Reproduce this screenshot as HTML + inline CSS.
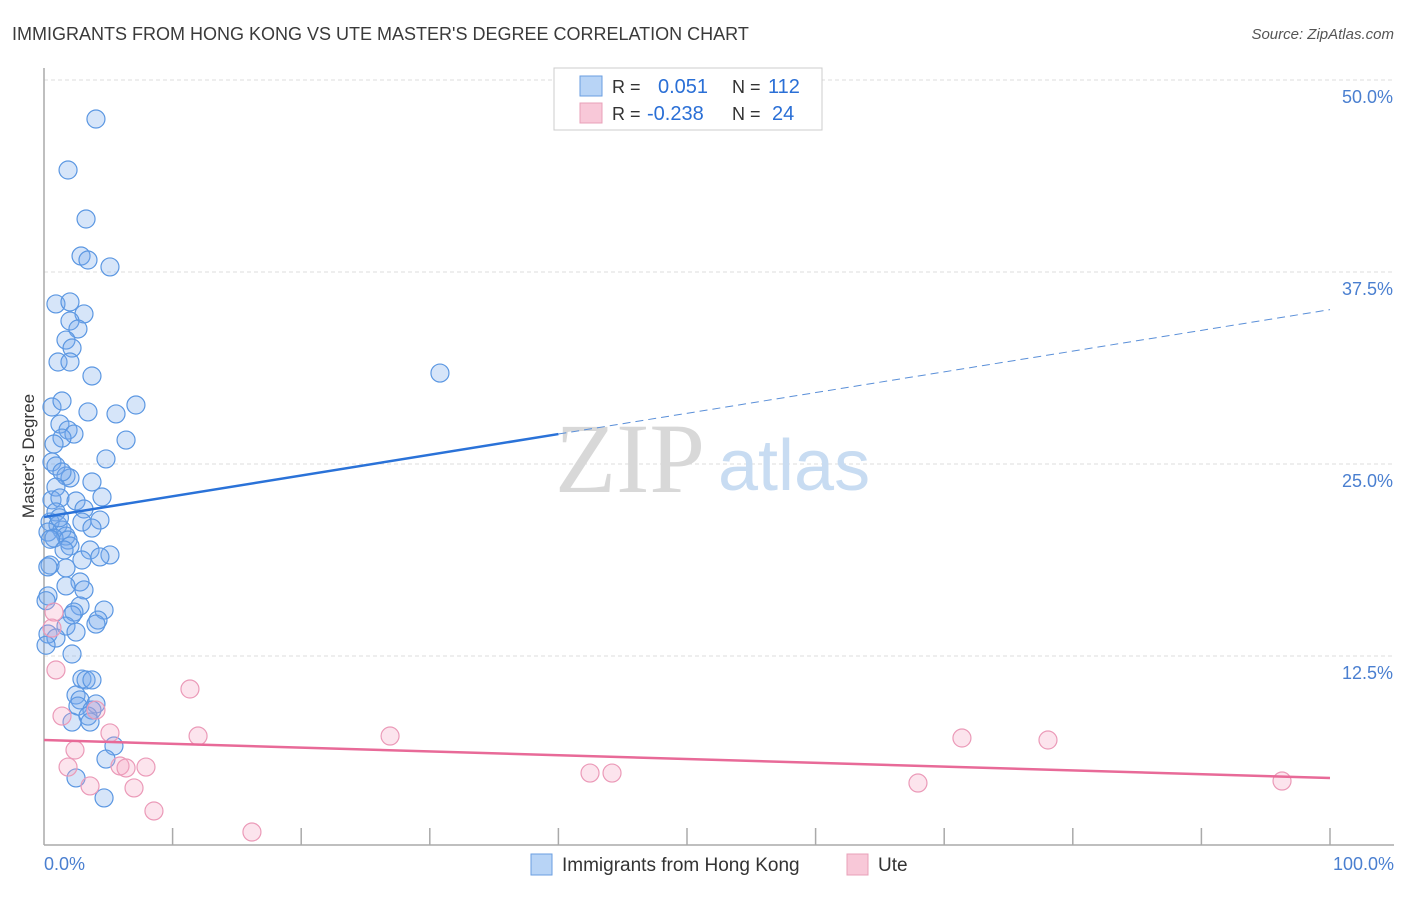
<!DOCTYPE html>
<html><head><meta charset="utf-8"><style>
body{margin:0;background:#fff;font-family:"Liberation Sans",sans-serif;}
svg text{font-family:"Liberation Sans",sans-serif;}
</style></head><body>
<svg id="chart" width="1406" height="892" viewBox="0 0 1406 892">
<text x="12" y="40" font-size="18" fill="#3a3a3a">IMMIGRANTS FROM HONG KONG VS UTE MASTER'S DEGREE CORRELATION CHART</text>
<text x="1394" y="39" font-size="15" fill="#555" font-style="italic" text-anchor="end">Source: ZipAtlas.com</text>
<g id="grid"></g>
<g>
<text x="555" y="492" font-size="100" fill="#d8d8d8" style="font-family:'Liberation Serif',serif">ZIP</text>
<text x="718" y="490" font-size="72" fill="#c8dcf2">atlas</text>
</g>
<line x1="44" y1="68" x2="44" y2="845" stroke="#aaa" stroke-width="1.5"/>
<line x1="44" y1="845" x2="1394" y2="845" stroke="#aaa" stroke-width="1.5"/>
<g id="xticks"></g>
<g id="pts"></g>
<g id="trends"></g>
<text transform="translate(34,456) rotate(-90)" font-size="17" fill="#333" text-anchor="middle">Master's Degree</text>
<text x="44" y="870" font-size="18" fill="#4a7fd0">0.0%</text>
<text x="1394" y="870" font-size="18" fill="#4a7fd0" text-anchor="end">100.0%</text>
<g>
<rect x="554" y="68" width="268" height="62" fill="#fff" stroke="#ccc"/>
<rect x="580" y="76" width="22" height="20" fill="#b8d4f6" stroke="#6a9ee0"/>
<rect x="580" y="103" width="22" height="20" fill="#f8c8d8" stroke="#e8a0b8"/>
<text x="612" y="93" font-size="18" fill="#333">R = </text><text x="658" y="93" font-size="20" fill="#2a6fd6">0.051</text>
<text x="732" y="93" font-size="18" fill="#333">N = </text><text x="768" y="93" font-size="20" fill="#2a6fd6">112</text>
<text x="612" y="120" font-size="18" fill="#333">R = </text><text x="647" y="120" font-size="20" fill="#2a6fd6">-0.238</text>
<text x="732" y="120" font-size="18" fill="#333">N = </text><text x="772" y="120" font-size="20" fill="#2a6fd6">24</text>
</g>
<g>
<rect x="531" y="854" width="21" height="21" fill="#b8d4f6" stroke="#6a9ee0"/>
<text x="562" y="871" font-size="19" fill="#333">Immigrants from Hong Kong</text>
<rect x="847" y="854" width="21" height="21" fill="#f8c8d8" stroke="#e8a0b8"/>
<text x="878" y="871" font-size="19" fill="#333">Ute</text>
</g>
</svg>
<script>
const yTicks=[12.5,25,37.5,50];
const yTickLabels=["12.5%","25.0%","37.5%","50.0%"];
const xTicks=[10,20,30,40,50,60,70,80,90,100];
const blueX=[4.04,1.87,3.27,2.88,3.42,5.13,0.93,2.02,3.11,2.02,2.64,1.71,2.18,1.09,2.02,3.73,30.79,7.15,0.62,1.40,3.42,5.60,1.24,1.87,2.33,1.40,6.38,0.78,4.82,0.62,0.93,3.73,1.71,2.02,1.40,0.93,4.51,0.62,1.24,2.49,3.11,0.93,4.35,2.95,0.47,1.09,3.73,1.40,0.31,1.71,0.78,1.87,2.02,1.56,3.58,5.13,4.35,2.95,0.47,1.71,2.80,1.71,3.11,0.31,2.80,2.33,4.67,2.18,4.20,4.04,1.71,2.49,0.31,0.93,2.18,2.95,3.27,3.73,2.49,2.80,4.04,2.64,3.73,3.42,2.18,3.58,5.44,4.82,2.49,4.67,0.16,0.16,0.3,1.2,0.5];
const blueY=[47.46,44.14,40.95,38.54,38.28,37.83,35.42,35.55,34.77,34.31,33.79,33.07,32.55,31.64,31.64,30.73,30.92,28.84,28.71,29.10,28.39,28.26,27.60,27.21,26.95,26.69,26.56,26.30,25.33,25.13,24.87,23.83,24.22,24.09,24.48,23.50,22.85,22.66,22.79,22.59,22.07,21.88,21.35,21.22,21.22,21.03,20.83,20.70,20.57,20.31,20.18,20.05,19.66,19.40,19.40,19.08,18.95,18.75,18.42,18.23,17.32,17.06,16.80,16.41,15.76,15.36,15.49,15.17,14.84,14.58,14.45,14.06,13.93,13.67,12.63,11.00,10.94,10.94,9.96,9.64,9.38,9.24,8.98,8.59,8.20,8.20,6.64,5.79,4.56,3.26,13.2,16.1,18.3,21.5,20.1];
const pinkX=[0.78,0.62,0.93,1.40,2.41,1.87,3.58,5.13,5.91,6.38,7.93,7.00,8.55,11.35,11.98,16.17,26.91,42.46,44.17,67.96,71.38,78.07,96.27,4.04];
const pinkY=[15.36,14.32,11.59,8.59,6.38,5.27,4.04,7.49,5.34,5.21,5.27,3.91,2.41,10.35,7.29,1.04,7.29,4.88,4.88,4.23,7.16,7.03,4.36,8.98];
const blueTrend=[21.55,35.05];
const pinkTrend=[7.03,4.56];
const blueSolidEnd=40;
const NS="http://www.w3.org/2000/svg";
const X=v=>44+v*12.86;
const Y=v=>848-v*15.36;
function mk(tag,attrs,parent){const e=document.createElementNS(NS,tag);for(const k in attrs)e.setAttribute(k,attrs[k]);parent.appendChild(e);return e;}
const grid=document.getElementById('grid');
yTicks.forEach((t,i)=>{
 const l=mk('line',{x1:44,x2:1394,y1:Y(t),y2:Y(t),stroke:'#ddd','stroke-dasharray':'4,3'},grid);
 
 
 const tx=mk('text',{x:1393,y:Y(t)+23,'font-size':18,fill:'#4a7fd0','text-anchor':'end'},grid);
 tx.textContent=yTickLabels[i];
 
 
});
const xt=document.getElementById('xticks');
xTicks.forEach(t=>{
 const l=mk('line',{x1:X(t),x2:X(t),y1:828,y2:845,stroke:'#aaa','stroke-width':1.5},xt);
 
 
});
const pts=document.getElementById('pts');
blueX.forEach((x,i)=>{
 const c=mk('circle',{cx:X(x),cy:Y(blueY[i]),r:9,fill:'rgba(120,170,235,0.3)',stroke:'#5b97e2','stroke-width':1.2},pts);
 
 
});
pinkX.forEach((x,i)=>{
 const c=mk('circle',{cx:X(x),cy:Y(pinkY[i]),r:9,fill:'rgba(245,165,195,0.3)',stroke:'#eb9ab8','stroke-width':1.2},pts);
 
 
});
const tr=document.getElementById('trends');
const bAt=v=>blueTrend[0]+(blueTrend[1]-blueTrend[0])*v/100;
const b1=mk('line',{x1:X(0),y1:Y(bAt(0)),x2:X(blueSolidEnd),y2:Y(bAt(blueSolidEnd)),stroke:'#2a72d8','stroke-width':2.5},tr);


const b2=mk('line',{x1:X(blueSolidEnd),y1:Y(bAt(blueSolidEnd)),x2:X(100),y2:Y(bAt(100)),stroke:'#5a8fd8','stroke-width':1,'stroke-dasharray':'8,5'},tr);


const p1=mk('line',{x1:X(0),y1:Y(pinkTrend[0]),x2:X(100),y2:Y(pinkTrend[1]),stroke:'#e86a98','stroke-width':2.5},tr);


</script>
</body></html>
